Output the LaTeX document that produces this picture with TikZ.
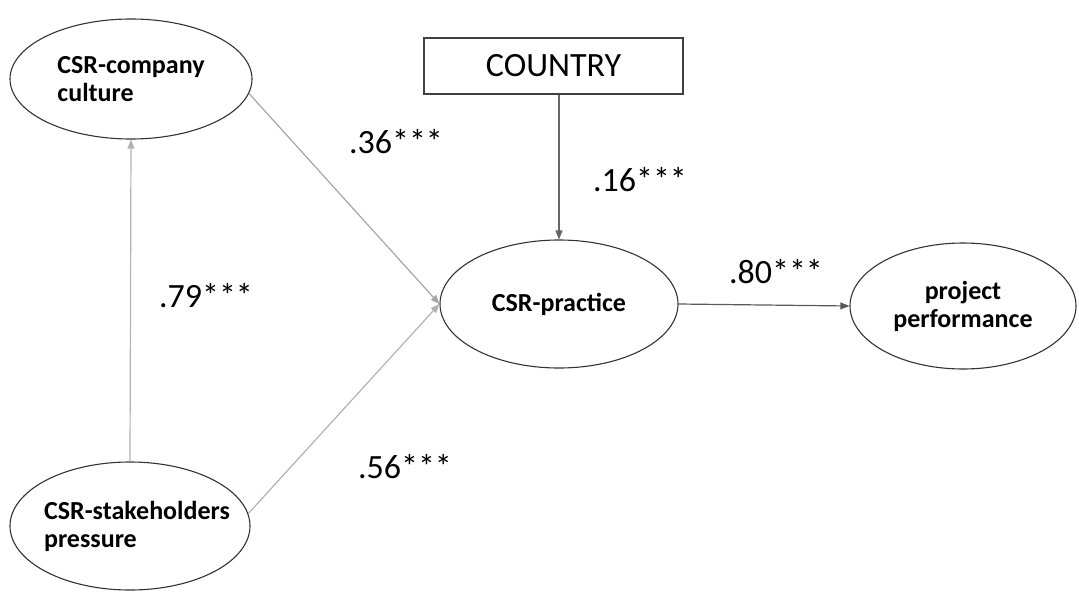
\documentclass[tikz,border=0pt]{standalone}
\usepackage{fontspec}
\setmainfont{Carlito}
\usetikzlibrary{shapes.geometric,arrows.meta}
\begin{document}
\begin{tikzpicture}[x=1pt,y=-1pt,
  lv/.style={ellipse,draw=black!80,line width=1.1pt,inner xsep=-40pt,inner ysep=-30pt,font=\fontsize{26}{28}\selectfont\bfseries},
  box/.style={rectangle,draw=black!75,line width=1.1pt,inner sep=0pt,minimum width=259pt,minimum height=56pt,font=\fontsize{34}{40}\selectfont},
  coef/.style={font=\fontsize{34}{40}\selectfont,inner sep=0pt},
  arr/.style={-{Triangle[length=9pt,width=7pt]},line width=1.2pt},
]
\useasboundingbox (0,0) rectangle (1079,592);
\node[lv,minimum width=242pt,minimum height=120pt,align=left] (culture) at (131,79) {CSR-company\\culture};
\node[lv,minimum width=240pt,minimum height=128pt,align=left] (stake) at (130,526) {\hspace*{14pt}CSR-stakeholders\\\hspace*{14pt}pressure};
\node[lv,minimum width=238pt,minimum height=128pt] (practice) at (559,304) {CSR-practice};
\node[lv,minimum width=226pt,minimum height=126pt,align=center] (perf) at (963,306) {project\\performance};
\node[box] (country) at (553.5,66) {COUNTRY};

\draw[arr,draw=black!30] (stake.north) -- (culture.south);
\draw[arr,draw=black!35] (culture.-7) -- (practice.west);
\draw[arr,draw=black!30] (stake.6) -- (practice.west);
\draw[arr,draw=black!60] (country.south -| practice.north) -- (practice.north);
\draw[arr,draw=black!65] (practice.east) -- (perf.west);

\node[coef] (c36) at (396,142) {.36***};
\node[coef] (c16) at (640,180) {.16***};
\node[coef] (c79) at (206,296) {.79***};
\node[coef] (c80) at (776,272) {.80***};
\node[coef] (c56) at (405,467) {.56***};
\end{tikzpicture}
\end{document}
